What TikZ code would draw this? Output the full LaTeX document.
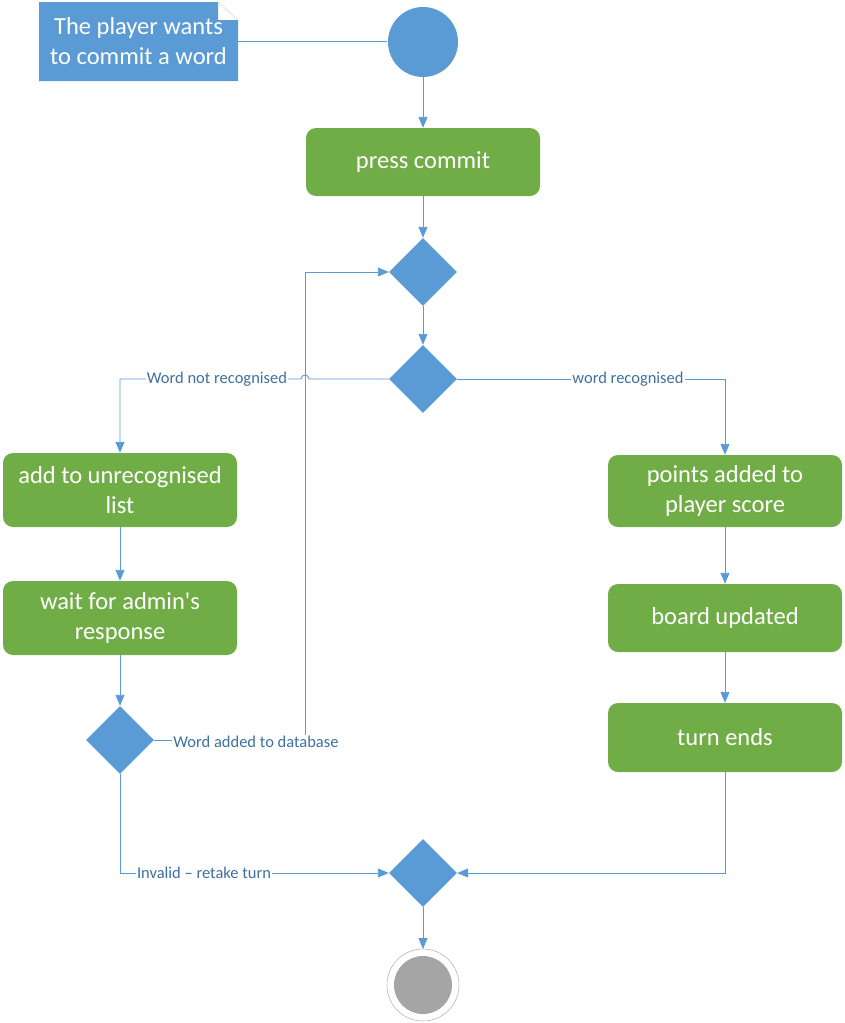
\documentclass[tikz,border=0pt]{standalone}
\usepackage{fontspec}
\setmainfont{Carlito}
\usepackage{tikz}
\usetikzlibrary{shapes.geometric, arrows.meta, positioning}
\definecolor{umlblue}{RGB}{91,155,213}
\definecolor{umlgreen}{RGB}{112,173,71}
\definecolor{umllabel}{RGB}{62,112,160}
\definecolor{umlgrey}{RGB}{165,165,165}

\begin{document}
\begin{tikzpicture}[x=1pt, y=-1pt,
    flow/.style={draw=umlblue, line width=0.9pt, -{Triangle[length=11pt, width=9pt]}},
    plain/.style={draw=umlblue, line width=0.9pt},
    action/.style={fill=umlgreen, rounded corners=10pt, minimum width=234pt, text=white,
        align=center, font=\fontsize{24.5}{30}\selectfont, inner sep=0pt},
    choice/.style={diamond, fill=umlblue, minimum width=68pt, minimum height=68pt, inner sep=0pt},
    lbl/.style={fill=white, text=umllabel, inner sep=1pt, font=\fontsize{16.5}{18}\selectfont}]
    \useasboundingbox (0,0) rectangle (845,1023);

    % Note
    \fill[umlblue] (39,2) -- (218,2) -- (218,20) -- (238,20) -- (238,81) -- (39,81) -- cycle;
    \draw[umlblue!35, line width=0.6pt] (218,2) -- (238,20);
    \node[minimum width=199pt, minimum height=79pt, inner sep=0pt, text=white, align=center,
        font=\fontsize{24.5}{30}\selectfont] (note) at (138.5,41.5) {The player wants\\to commit a word};

    % Start node
    \fill[umlblue] (423,42) circle (35pt);
    \coordinate (start) at (423,77);

    % Actions
    \node[action, minimum height=68pt] (commit) at (423,162) {press commit};
    \node[action, minimum height=74pt] (unrec) at (120,490) {add to unrecognised\\list};
    \node[action, minimum height=74pt] (admin) at (120,618) {wait for admin\textquotesingle s\\response};
    \node[action, minimum height=72pt] (points) at (725,491) {points added to\\player score};
    \node[action, minimum height=68pt] (board) at (725,618) {board updated};
    \node[action, minimum height=69pt] (ends) at (725,737.5) {turn ends};

    % Decisions
    \node[choice] (join) at (423,272) {};
    \node[choice] (check) at (423,379) {};
    \node[choice] (reply) at (120,740) {};
    \node[choice] (merge) at (423,873) {};

    % Final node
    \draw[umlgrey!80, line width=0.6pt] (423,985) circle (36pt);
    \fill[umlgrey] (423,985) circle (29pt);
    \coordinate (final) at (423,949);

    % Connectors
    \draw[plain] (note.east) -- (387,41.5);
    \draw[flow] (start) -- (commit.north);
    \draw[flow] (commit.south) -- (join.north);
    \draw[flow] (join.south) -- (check.north);
    \draw[flow] (check.west) -- (309,379) arc[start angle=0, end angle=180, radius=4pt]
        -- (120,379) -- (unrec.north);
    \draw[flow] (check.east) -- (725,379) -- (points.north);
    \draw[flow] (unrec.south) -- (admin.north);
    \draw[flow] (admin.south) -- (reply.north);
    \draw[flow] (reply.east) -- (305,740) -- (305,272) -- (join.west);
    \draw[flow] (reply.south) -- (120,873) -- (merge.west);
    \draw[flow] (points.south) -- (board.north);
    \draw[flow] (board.south) -- (ends.north);
    \draw[flow] (ends.south) -- (725,873) -- (merge.east);
    \draw[flow] (merge.south) -- (final);

    % Labels
    \node[lbl] at (217,379) {Word not recognised};
    \node[lbl] at (628,379) {word recognised};
    \node[lbl] at (256,742) {Word added to database};
    \node[lbl] at (204,873) {Invalid -- retake turn};
\end{tikzpicture}
\end{document}
